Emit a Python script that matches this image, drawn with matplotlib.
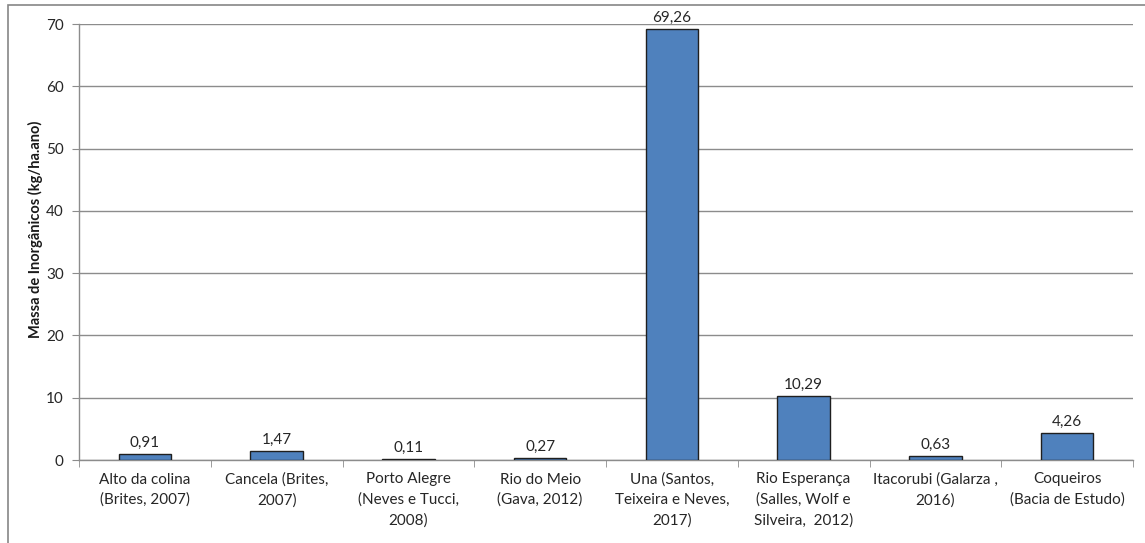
import matplotlib.pyplot as plt
from matplotlib.patches import Rectangle

plt.rcParams['font.family'] = ['Lato', 'DejaVu Sans']

categorias = [
    'Alto da colina\n(Brites, 2007)',
    'Cancela (Brites,\n2007)',
    'Porto Alegre\n(Neves e Tucci,\n2008)',
    'Rio do Meio\n(Gava, 2012)',
    'Una (Santos,\nTeixeira e Neves,\n2017)',
    'Rio Esperança\n(Salles, Wolf e\nSilveira,  2012)',
    'Itacorubi (Galarza ,\n2016)',
    'Coqueiros\n(Bacia de Estudo)',
]
massa = [0.91, 1.47, 0.11, 0.27, 69.26, 10.29, 0.63, 4.26]
yticks = [0, 10, 20, 30, 40, 50, 60, 70]

fig = plt.figure(figsize=(11.45, 5.43), dpi=100)

# moldura da area do grafico (cortada na imagem original)
fig.patches.append(Rectangle((8 / 1145, -0.1), 1.2, 1 - 5 / 543 + 0.1,
                             transform=fig.transFigure, fill=False,
                             edgecolor='#868686', linewidth=1.2))

ax = fig.add_axes((79 / 1145, 1 - 460 / 543, (1133 - 79) / 1145, (460 - 24) / 543))

x = list(range(len(massa)))
ax.bar(x, massa, width=0.4, color='#4F81BD', edgecolor='#1F1F1F', linewidth=1, zorder=3)

for xi, v in zip(x, massa):
    ax.annotate(f'{v:.2f}'.replace('.', ','), (xi, v), xytext=(0, 3),
                textcoords='offset points', ha='center', va='bottom',
                fontsize=11, color='#262626')

ax.set_xlim(-0.5, len(massa) - 0.5)
ax.set_ylim(0, 70)
ax.set_yticks(yticks)
ax.yaxis.grid(True, color='#8C8C8C', linewidth=1)
ax.set_axisbelow(True)

ax.set_xticks(x)
ax.set_xticklabels(categorias, fontsize=11, color='#262626', linespacing=1.55)
ax.set_xticks([i + 0.5 for i in range(-1, len(massa))], minor=True)
ax.tick_params(axis='x', which='major', length=0, pad=9)
ax.tick_params(axis='x', which='minor', length=5, color='#8C8C8C', direction='out')
ax.tick_params(axis='y', length=5, color='#8C8C8C', labelsize=11,
               labelcolor='#262626', pad=6)

for s in ['top', 'right']:
    ax.spines[s].set_visible(False)
for s in ['left', 'bottom']:
    ax.spines[s].set_color('#8C8C8C')
    ax.spines[s].set_linewidth(1)

ax.set_ylabel('Massa de Inorgânicos (kg/ha.ano)', fontsize=10.5, fontweight='bold',
              color='#1A1A1A', labelpad=0)
ax.yaxis.set_label_coords(-36 / 1054, 0.53)

fig.savefig('out.png', dpi=100)
